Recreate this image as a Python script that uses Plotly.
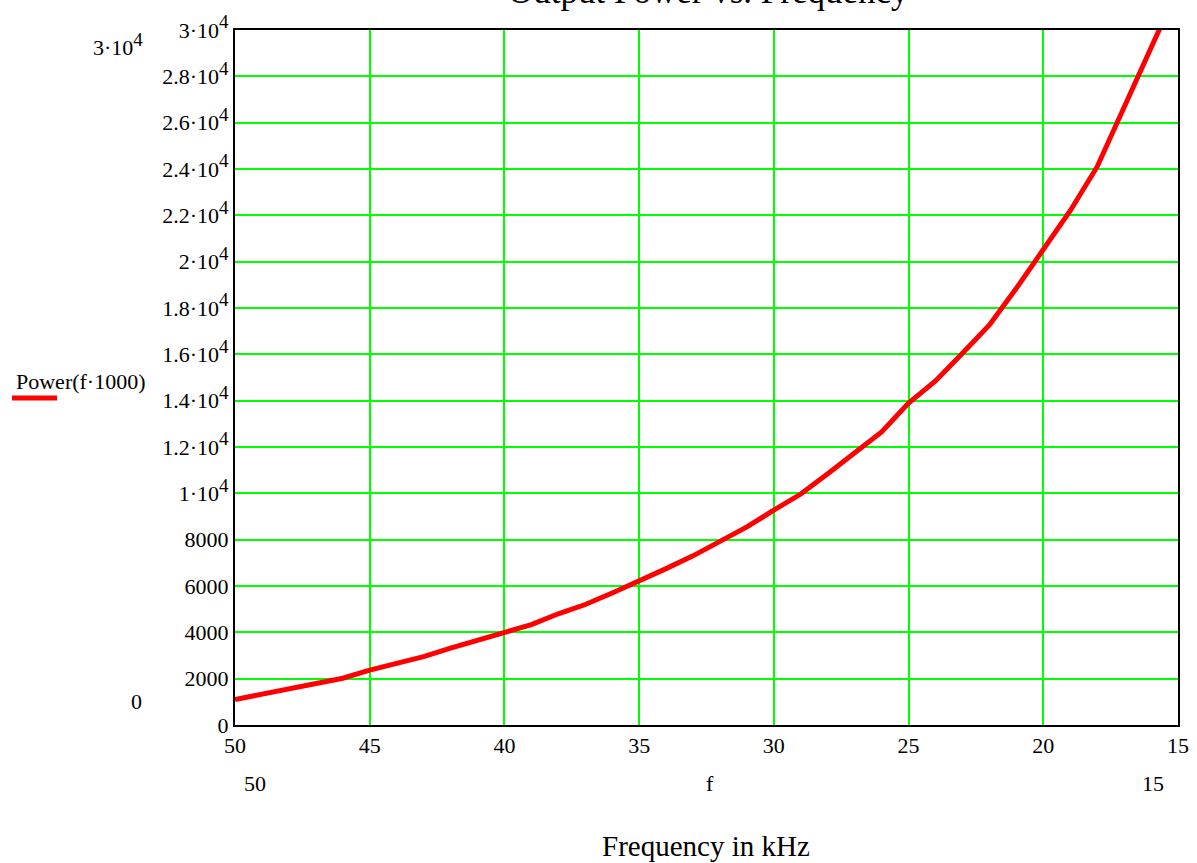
import plotly.graph_objects as go

freq_khz = [50, 49, 48, 47, 46, 45, 44, 43, 42, 41, 40, 39, 38, 37, 36, 35, 34, 33,
            32, 31, 30, 29, 28, 27, 26, 25, 24, 23, 22, 21, 20, 19, 18, 17, 16, 15]
power = [1100, 1330, 1560, 1790, 2020, 2370, 2680, 2950, 3320, 3650, 4000, 4330,
         4800, 5200, 5700, 6200, 6750, 7300, 7950, 8550, 9280, 9970, 10850, 11750,
         12650, 13900, 14850, 16050, 17270, 18850, 20500, 22200, 24100, 26700, 29200, 31800]

x_ticks = [50, 45, 40, 35, 30, 25, 20, 15]
y_ticks = [0, 2000, 4000, 6000, 8000, 10000, 12000, 14000, 16000, 18000, 20000,
           22000, 24000, 26000, 28000, 30000]
SUP = "<sup><span style='font-size:19px'>4</span></sup>"
y_mantissa = ["1", "1.2", "1.4", "1.6", "1.8", "2", "2.2", "2.4", "2.6", "2.8", "3"]
y_ticktext = ["0", "2000", "4000", "6000", "8000"] + [m + "·10" + SUP for m in y_mantissa]

FONT = "Liberation Serif"
W, H = 1197, 863
# plot rectangle: x 235..1178, y 30..725
L, T, R, B = 235, 30, W - 1178, H - 725
PW, PH = W - L - R, H - T - B

def px(x):
    return (x - 235) / PW

def py(y):
    return (725 - y) / PH

fig = go.Figure()
fig.add_trace(go.Scatter(x=freq_khz, y=power, mode="lines",
                         line=dict(color="#ff0000", width=5), showlegend=False,
                         cliponaxis=True, hoverinfo="skip"))

fig.update_layout(
    width=W, height=H,
    margin=dict(l=L, r=R, t=T, b=B, autoexpand=False),
    paper_bgcolor="white", plot_bgcolor="white",
    font=dict(family=FONT, size=22, color="black"),
    xaxis=dict(range=[50, 15], tickvals=x_ticks, ticktext=[str(v) for v in x_ticks],
               showgrid=True, gridcolor="#00ff00", gridwidth=2, automargin=False,
               showline=True, linecolor="black", linewidth=2, mirror=True,
               ticks="", zeroline=False, tickfont=dict(family=FONT, size=22)),
    yaxis=dict(range=[0, 30000], tickvals=y_ticks, ticktext=y_ticktext,
               showgrid=True, gridcolor="#00ff00", gridwidth=2, automargin=False,
               showline=True, linecolor="black", linewidth=2, mirror=True,
               ticks="", zeroline=False, tickfont=dict(family=FONT, size=22)),
)

ann = [
    dict(text="Output Power vs. Frequency", x=px(708), y=py(-8), size=35),
    dict(text="3·10" + SUP, x=px(118), y=py(45), size=22),
    dict(text="0", x=px(136), y=py(701), size=22),
    dict(text="50", x=px(255), y=py(783), size=22),
    dict(text="f", x=px(710), y=py(783), size=22),
    dict(text="15", x=px(1153), y=py(783), size=22),
    dict(text="Frequency in kHz", x=px(706), y=py(846), size=29),
]
for a in ann:
    fig.add_annotation(text=a["text"], x=a["x"], y=a["y"], xref="paper", yref="paper",
                       showarrow=False, xanchor="center", yanchor="middle",
                       font=dict(family=FONT, size=a["size"], color="black"))

fig.add_annotation(text="Power(f·1000)", x=px(14), y=py(381), xref="paper", yref="paper",
                   showarrow=False, xanchor="left", yanchor="middle",
                   font=dict(family=FONT, size=22, color="black"))
fig.add_shape(type="line", xref="paper", yref="paper", x0=px(12), x1=px(57),
              y0=py(398), y1=py(398), line=dict(color="#ff0000", width=5))

fig.write_html("out.html", config={"displayModeBar": False},
               post_script="document.body.style.margin='0';document.body.style.overflow='hidden';")
